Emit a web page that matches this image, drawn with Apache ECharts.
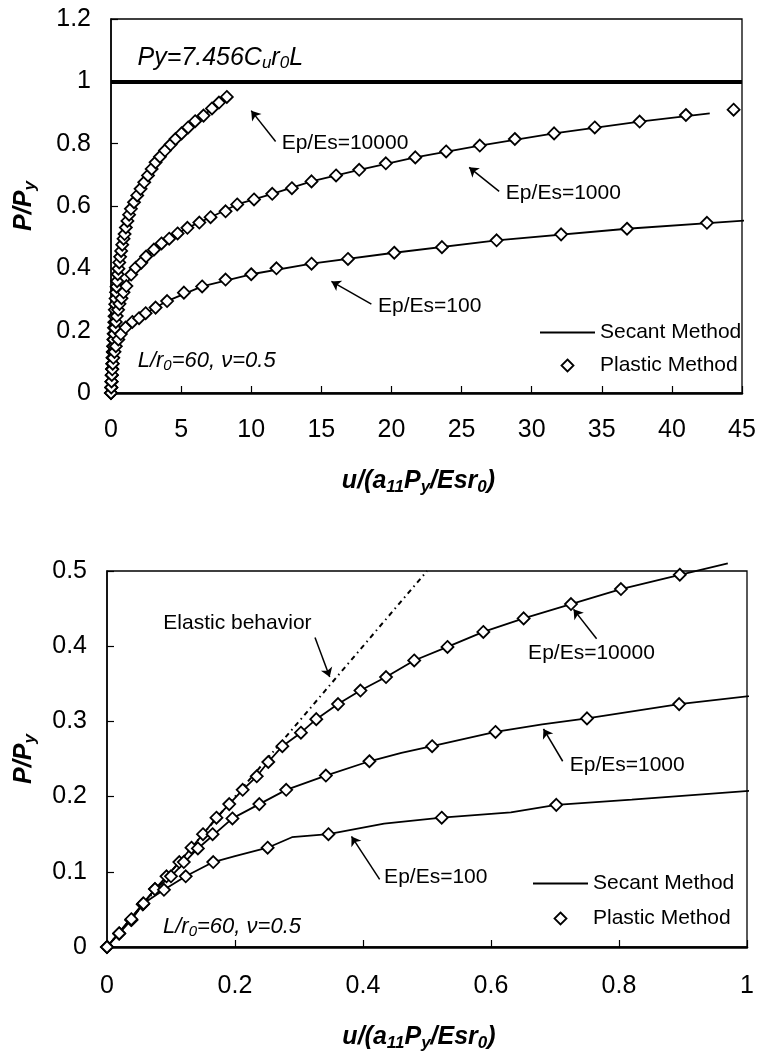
<!DOCTYPE html>
<html>
<head>
<meta charset="utf-8">
<script src="https://cdn.jsdelivr.net/npm/echarts@6/dist/echarts.min.js"></script>
<style>
html, body { margin: 0; background: #fff; }
#pile_chart { width: 759px; height: 1053px; }
</style>
</head>
<body>
<div id="pile_chart"></div>
<script>
let pileChart;

document.addEventListener("DOMContentLoaded", () => {
    drawPileChart();
});

const FONT = "Liberation Sans";

// axis ticks
const topXTicks = [0, 5, 10, 15, 20, 25, 30, 35, 40, 45];
const topYTicks = [0, 0.2, 0.4, 0.6, 0.8, 1, 1.2];
const lowXTicks = [0, 0.2, 0.4, 0.6, 0.8, 1];
const lowYTicks = [0, 0.1, 0.2, 0.3, 0.4, 0.5];

const yieldLevel = 1;

// [u/(a11Py/Esr0), P/Py]
const plastic10000 = [
    [0, 0], [0.019, 0.018], [0.038, 0.036], [0.056, 0.057], [0.075, 0.077], [0.093, 0.094],
    [0.113, 0.113], [0.132, 0.132], [0.15, 0.15], [0.171, 0.172], [0.191, 0.19], [0.212, 0.209],
    [0.234, 0.227], [0.252, 0.246], [0.274, 0.267], [0.303, 0.285], [0.327, 0.303], [0.361, 0.323],
    [0.396, 0.341], [0.436, 0.359], [0.48, 0.381], [0.532, 0.399], [0.588, 0.419], [0.651, 0.437],
    [0.725, 0.456], [0.803, 0.476], [0.895, 0.495], [0.97, 0.51], [1.06, 0.531], [1.17, 0.552],
    [1.29, 0.572], [1.42, 0.591], [1.64, 0.612], [1.87, 0.634], [2.11, 0.655], [2.37, 0.676],
    [2.64, 0.698], [2.9, 0.719], [3.18, 0.74], [3.49, 0.758], [3.85, 0.778], [4.25, 0.797],
    [4.6, 0.815], [5.03, 0.833], [5.5, 0.852], [6.0, 0.872], [6.6, 0.89], [7.2, 0.913],
    [7.7, 0.932], [8.26, 0.95]
];
const secant10000 = plastic10000;

const plastic1000 = [
    [0, 0], [0.019, 0.018], [0.038, 0.036], [0.056, 0.057], [0.075, 0.077], [0.1, 0.094],
    [0.12, 0.113], [0.142, 0.131], [0.165, 0.15], [0.196, 0.171], [0.238, 0.19], [0.28, 0.209],
    [0.342, 0.228], [0.41, 0.247], [0.508, 0.267], [0.607, 0.286], [0.75, 0.304], [0.894, 0.323],
    [1.1, 0.343], [1.44, 0.38], [1.76, 0.402], [2.16, 0.418], [2.5, 0.438], [3.06, 0.46],
    [3.6, 0.48], [4.15, 0.495], [4.75, 0.512], [5.45, 0.53], [6.3, 0.547], [7.1, 0.564],
    [8.17, 0.583], [9.0, 0.605], [10.2, 0.621], [11.5, 0.639], [12.9, 0.657], [14.3, 0.679],
    [16.05, 0.698], [17.7, 0.716], [19.6, 0.737], [21.7, 0.756], [23.9, 0.775], [26.3, 0.794],
    [28.8, 0.815], [31.6, 0.833], [34.5, 0.852], [37.7, 0.871], [41.0, 0.892], [44.4, 0.909]
];
const secant1000 = [
    [0, 0], [0.075, 0.077], [0.1, 0.094], [0.142, 0.131], [0.196, 0.171], [0.28, 0.209],
    [0.342, 0.228], [0.41, 0.247], [0.46, 0.258], [0.508, 0.267], [0.607, 0.286], [0.68, 0.296],
    [0.75, 0.304], [0.894, 0.323], [1.1, 0.343], [1.44, 0.38], [2.16, 0.418], [3.06, 0.46],
    [4.15, 0.495], [5.45, 0.53], [7.1, 0.564], [9.0, 0.605], [11.5, 0.639], [14.3, 0.679],
    [17.7, 0.716], [21.7, 0.756], [26.3, 0.794], [31.6, 0.833], [37.7, 0.871], [42.7, 0.897]
];

const plastic100 = [
    [0, 0], [0.019, 0.018], [0.038, 0.037], [0.057, 0.058], [0.089, 0.076], [0.123, 0.094],
    [0.166, 0.113], [0.251, 0.132], [0.346, 0.15], [0.523, 0.172], [0.702, 0.189], [1.04, 0.21],
    [1.52, 0.228], [2.0, 0.24], [2.47, 0.256], [3.18, 0.274], [4.0, 0.295], [5.2, 0.322],
    [6.5, 0.342], [8.17, 0.364], [10.0, 0.381], [11.8, 0.4], [14.3, 0.415], [16.9, 0.43],
    [20.2, 0.45], [23.6, 0.468], [27.5, 0.49], [32.1, 0.509], [36.8, 0.527], [42.5, 0.546]
];
const secant100 = [
    [0, 0], [0.057, 0.058], [0.089, 0.076], [0.123, 0.094], [0.166, 0.113], [0.2, 0.121],
    [0.251, 0.132], [0.289, 0.146], [0.346, 0.15], [0.433, 0.164], [0.523, 0.172], [0.631, 0.179],
    [0.702, 0.189], [0.82, 0.196], [1.04, 0.21], [1.52, 0.228], [2.47, 0.256], [4.0, 0.295],
    [6.5, 0.342], [10.0, 0.381], [14.3, 0.415], [20.2, 0.45], [27.5, 0.49], [36.8, 0.527],
    [45.4, 0.554]
];

const elasticLine = [[0, 0], [0.5, 0.5]];

// annotation anchors in data units
const topNotes = [
    { text: "Ep/Es=10000", at: [12.17, 0.80], tail: [11.74, 0.807], head: [10.0, 0.906] },
    { text: "Ep/Es=1000", at: [28.16, 0.642], tail: [27.68, 0.647], head: [25.54, 0.724] },
    { text: "Ep/Es=100", at: [19.04, 0.28], tail: [18.57, 0.285], head: [15.72, 0.358] }
];
const lowNotes = [
    { text: "Elastic behavior", at: [0.088, 0.43], tail: [0.325, 0.4115], head: [0.348, 0.359] },
    { text: "Ep/Es=10000", at: [0.658, 0.391], tail: [0.765, 0.41], head: [0.729, 0.449] },
    { text: "Ep/Es=1000", at: [0.723, 0.242], tail: [0.712, 0.247], head: [0.682, 0.29] },
    { text: "Ep/Es=100", at: [0.433, 0.093], tail: [0.426, 0.09], head: [0.382, 0.147] }
];

const titleRich = {
    n: { fontFamily: FONT, fontSize: 25, fontWeight: "bold", fontStyle: "italic", color: "#000" },
    s: { fontFamily: FONT, fontSize: 17, fontWeight: "bold", fontStyle: "italic", color: "#000", padding: [12, 0, 0, 0] }
};

const makeXAxis = (gridIndex, ticks, gap, margin) => ({
    gridIndex,
    type: "value",
    min: ticks[0],
    max: ticks[ticks.length - 1],
    interval: ticks[1] - ticks[0],
    axisLine: { onZero: false, lineStyle: { color: "#000", width: 2.5 } },
    axisTick: { inside: true, length: 7, lineStyle: { color: "#000", width: 1.2 } },
    axisLabel: { margin, color: "#000", fontSize: 25, fontFamily: FONT },
    splitLine: { show: false },
    name: "{n|u/(a}{s|11}{n|P}{s|y}{n|/Esr}{s|0}{n|)}",
    nameLocation: "middle",
    nameGap: gap,
    nameTextStyle: { rich: titleRich, padding: [0, 16, 0, 0] }
});

const makeYAxis = (gridIndex, ticks, gap) => ({
    gridIndex,
    type: "value",
    min: ticks[0],
    max: ticks[ticks.length - 1],
    interval: ticks[1] - ticks[0],
    axisLine: { onZero: false, lineStyle: { color: "#000", width: 1.5 } },
    axisTick: { inside: true, length: 7, lineStyle: { color: "#000", width: 1.2 } },
    axisLabel: { margin: 20, color: "#000", fontSize: 25, fontFamily: FONT },
    splitLine: { show: false },
    name: "{n|P/P}{s|y}",
    nameLocation: "middle",
    nameRotate: 90,
    nameGap: gap,
    nameTextStyle: { rich: titleRich }
});

const secantSeries = (data, grid, clip) => ({
    name: "Secant Method",
    type: "line",
    xAxisIndex: grid,
    yAxisIndex: grid,
    data,
    symbol: "none",
    clip,
    silent: true,
    lineStyle: { color: "#000", width: 1.8 },
    z: 2
});

const plasticSeries = (data, grid) => ({
    name: "Plastic Method",
    type: "scatter",
    xAxisIndex: grid,
    yAxisIndex: grid,
    data,
    symbol: "diamond",
    symbolSize: 12,
    silent: true,
    itemStyle: { color: "#fff", borderColor: "#000", borderWidth: 1.8, opacity: 1 },
    z: 3
});

const arrowSeries = (notes, grid) => ({
    name: "arrows",
    type: "line",
    xAxisIndex: grid,
    yAxisIndex: grid,
    data: [],
    markLine: {
        silent: true,
        symbol: ["none", "arrow"],
        symbolSize: 9,
        label: { show: false },
        lineStyle: { color: "#000", width: 1.5, type: "solid" },
        data: notes.map(n => [{ coord: n.tail }, { coord: n.head }])
    }
});

const legendFor = (left, top, gap) => ({
    orient: "vertical",
    left,
    top,
    itemWidth: 55,
    itemHeight: 12,
    itemGap: gap,
    selectedMode: false,
    data: [
        {
            name: "Secant Method",
            icon: "path://M0,0H55V2H0Z",
            itemStyle: { color: "#000", borderWidth: 0 }
        },
        {
            name: "Plastic Method",
            icon: "path://M6,0L12,6L6,12L0,6Z",
            itemStyle: { color: "#fff", borderColor: "#000", borderWidth: 1.8 }
        }
    ],
    textStyle: { fontFamily: FONT, fontSize: 21, color: "#000", lineHeight: 20 }
});

const zrRich = (size, weight, style, subSize, drop) => ({
    n: { fontFamily: FONT, fontSize: size, fontWeight: weight, fontStyle: style, fill: "#000" },
    s: { fontFamily: FONT, fontSize: subSize, fontWeight: weight, fontStyle: style, fill: "#000", padding: [drop, 0, 0, 0] }
});

const drawChart = () => {
    const option = {
        animation: false,
        grid: [
            { left: 111, top: 19, width: 631, height: 374, show: true, borderColor: "#000", borderWidth: 1.3 },
            { left: 107, top: 571, width: 640, height: 377, show: true, borderColor: "#000", borderWidth: 1.3 }
        ],
        xAxis: [makeXAxis(0, topXTicks, 74, 25), makeXAxis(1, lowXTicks, 76, 27)],
        yAxis: [makeYAxis(0, topYTicks, 72), makeYAxis(1, lowYTicks, 68)],
        legend: [legendFor(535, 317, 12), legendFor(528, 868, 14)],
        series: [
            {
                name: "Py",
                type: "line",
                xAxisIndex: 0,
                yAxisIndex: 0,
                data: [],
                markLine: {
                    silent: true,
                    symbol: "none",
                    label: { show: false },
                    lineStyle: { color: "#000", width: 4, type: "solid" },
                    data: [{ yAxis: yieldLevel }]
                }
            },
            secantSeries(secant10000, 0, false),
            secantSeries(secant1000, 0, false),
            secantSeries(secant100, 0, false),
            plasticSeries(plastic10000, 0),
            plasticSeries(plastic1000, 0),
            plasticSeries(plastic100, 0),
            arrowSeries(topNotes, 0),
            {
                name: "Elastic behavior",
                type: "line",
                xAxisIndex: 1,
                yAxisIndex: 1,
                data: elasticLine,
                symbol: "none",
                silent: true,
                lineStyle: { color: "#000", width: 2, type: [5, 4, 1.5, 4] },
                z: 1
            },
            secantSeries(secant10000.filter(p => p[0] < 1), 1, false),
            secantSeries(secant1000, 1, true),
            secantSeries(secant100, 1, true),
            plasticSeries(plastic10000, 1),
            plasticSeries(plastic1000, 1),
            plasticSeries(plastic100, 1),
            arrowSeries(lowNotes, 1)
        ]
    };

    pileChart.setOption(option);

    const toPx = (grid, p) => pileChart.convertToPixel({ gridIndex: grid }, p);
    const noteText = (grid, n) => {
        const [x, y] = toPx(grid, n.at);
        return {
            type: "text",
            x, y,
            silent: true,
            style: {
                text: n.text,
                font: `21px ${FONT}`,
                fill: "#000",
                textAlign: "left",
                textVerticalAlign: "middle"
            }
        };
    };
    const richText = (grid, at, text, rich) => {
        const [x, y] = toPx(grid, at);
        return {
            type: "text",
            x, y,
            silent: true,
            style: { text, rich, textAlign: "left", textVerticalAlign: "middle" }
        };
    };

    const italic = zrRich(22, "normal", "italic", 15, 9);
    const graphic = [
        ...topNotes.map(n => noteText(0, n)),
        ...lowNotes.map(n => noteText(1, n)),
        richText(0, [1.89, 1.075], "{n|Py=7.456C}{s|u}{n|r}{s|0}{n|L}", zrRich(25, "normal", "italic", 17, 10)),
        richText(0, [1.9, 0.102], "{n|L/r}{s|0}{n|=60, ν=0.5}", italic),
        richText(1, [0.0875, 0.0265], "{n|L/r}{s|0}{n|=60, ν=0.5}", italic)
    ];
    pileChart.setOption({ graphic });
};

const drawPileChart = () => {
    const chartDom = document.getElementById("pile_chart");
    pileChart = echarts.init(chartDom);
    drawChart();
};
</script>
</body>
</html>
